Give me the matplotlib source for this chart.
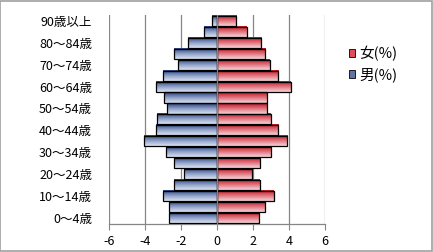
import numpy as np
import matplotlib
matplotlib.use("Agg")
import matplotlib.pyplot as plt
from matplotlib.colors import LinearSegmentedColormap
from matplotlib.patches import Rectangle

plt.rcParams['font.family'] = ['Noto Sans CJK JP', 'DejaVu Sans']

# Age groups (bottom to top) and shares in %
ages = ["0～4歳", "5～9歳", "10～14歳", "15～19歳", "20～24歳", "25～29歳",
        "30～34歳", "35～39歳", "40～44歳", "45～49歳", "50～54歳", "55～59歳",
        "60～64歳", "65～69歳", "70～74歳", "75～79歳", "80～84歳", "85～89歳",
        "90歳以上"]
male = [-2.68, -2.68, -3.01, -2.40, -1.80, -2.40, -2.85, -4.07, -3.36, -3.31,
        -2.74, -2.96, -3.40, -3.01, -2.18, -2.40, -1.63, -0.69, -0.30]
female = [2.31, 2.69, 3.14, 2.36, 1.94, 2.36, 3.02, 3.91, 3.41, 2.97,
          2.77, 2.80, 4.08, 3.41, 2.92, 2.69, 2.47, 1.64, 1.07]
tick_labels = [a if i % 2 == 0 else "" for i, a in enumerate(ages)]
xticks = [-6, -4, -2, 0, 2, 4, 6]

blue_cmap = LinearSegmentedColormap.from_list("b", ["#dde4f2", "#8ea0c8", "#243f7c"])
red_cmap = LinearSegmentedColormap.from_list("r", ["#f6d6da", "#e07480", "#c3141f"])

fig = plt.figure(figsize=(4.33, 2.52), dpi=100)
ax = fig.add_axes([0.251, 0.113, 0.5, 0.826])

y = np.arange(len(ages))
grad = np.linspace(0, 1, 64).reshape(-1, 1)


def gradient_bars(vals, cmap):
    bars = ax.barh(y, vals, height=0.92, color="none", edgecolor="black",
                   linewidth=0.9, zorder=4)
    for b in bars:
        x0, y0, w, h = b.get_x(), b.get_y(), b.get_width(), b.get_height()
        ax.imshow(grad, cmap=cmap, aspect="auto", origin="lower",
                  extent=[x0, x0 + w, y0, y0 + h], zorder=3,
                  interpolation="bicubic")
    return bars


gradient_bars(male, blue_cmap)
gradient_bars(female, red_cmap)

ax.set_xlim(-6, 6)
ax.set_ylim(-0.5, len(ages) - 0.5)
ax.set_xticks(xticks)
ax.set_xticklabels([str(t) for t in xticks], fontsize=9)
ax.set_yticks(y)
ax.set_yticklabels(tick_labels, fontsize=9)
ax.tick_params(axis="y", length=0, pad=12)
ax.tick_params(axis="x", length=4, color="#868686", direction="out", pad=4)

for t in xticks:
    ax.axvline(t, color="#868686", linewidth=0.9, zorder=1 if t != 0 else 5)

for s in ["top", "right", "left"]:
    ax.spines[s].set_visible(False)
ax.spines["bottom"].set_color("#868686")
ax.spines["bottom"].set_linewidth(0.9)

# legend
h_f = Rectangle((0, 0), 1, 1, facecolor="#d9505c", edgecolor="black", linewidth=0.6)
h_m = Rectangle((0, 0), 1, 1, facecolor="#5e74a6", edgecolor="black", linewidth=0.6)
fig.legend([h_f, h_m], ["女(%)", "男(%)"], loc="center left",
           bbox_to_anchor=(0.775, 0.745), frameon=False, fontsize=10.5,
           handlelength=0.45, handleheight=0.45, handletextpad=0.3,
           labelspacing=0.45)

fig.patches.append(Rectangle((0.001, 0.002), 0.997, 0.995, transform=fig.transFigure,
                             fill=False, edgecolor="#a0a0a0", linewidth=1.2))

fig.savefig("out.png", dpi=100)
